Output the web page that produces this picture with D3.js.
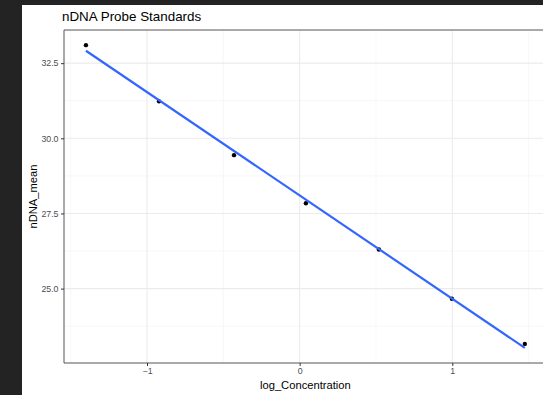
<!DOCTYPE html>
<html>
<head>
<meta charset="utf-8">
<script src="https://cdn.jsdelivr.net/npm/d3@7"></script>
<style>
  html, body { margin: 0; padding: 0; background: #232323; overflow: hidden; }
  svg { display: block; font-family: "Liberation Sans", Arial, Helvetica, sans-serif; }
  .tick text { fill: #4d4d4d; font-size: 8.8px; }
</style>
</head>
<body>
<svg id="chart" width="543" height="395"></svg>
<script>
"use strict";

// ── Data ──────────────────────────────────────────────────────────────────────
const logConc   = [-1.40, -0.921, -0.430, 0.041, 0.519, 0.997, 1.475];
const ndnaMean  = [33.10, 31.23, 29.44, 27.84, 26.30, 24.66, 23.16];
const xTicks    = [-1, 0, 1];
const yTicks    = [25.0, 27.5, 30.0, 32.5];
const xMinor    = [-1.5, -0.5, 0.5, 1.5];
const yMinor    = [23.75, 26.25, 28.75, 31.25];

// ── Layout ────────────────────────────────────────────────────────────────────
const W = 543, H = 395;
const M = { top: 30, left: 64, bottom: 363 };
const ppu = 152.65; // px per x unit (panel runs past right edge)

const svg = d3.select("#chart");

svg.append("rect")
  .attr("x", 22).attr("y", 5)
  .attr("width", W - 22).attr("height", H - 5)
  .attr("fill", "#ffffff");

// least squares fit (geom_smooth method = lm)
const mx = d3.mean(logConc), my = d3.mean(ndnaMean);
const slope = d3.sum(logConc, (x, i) => (x - mx) * (ndnaMean[i] - my)) /
              d3.sum(logConc, (x) => (x - mx) * (x - mx));
const icpt  = my - slope * mx;
const xExt  = d3.extent(logConc);
const fit   = xExt.map((x) => ({ x, y: icpt + slope * x }));

// scales with 5% expansion like ggplot
const xPad = (xExt[1] - xExt[0]) * 0.05;
const xDom = [xExt[0] - xPad, xExt[1] + xPad];
const yAll = ndnaMean.concat(fit.map((d) => d.y));
const yExt = d3.extent(yAll);
const yPad = (yExt[1] - yExt[0]) * 0.05;
const yDom = [yExt[0] - yPad, yExt[1] + yPad];

const x = d3.scaleLinear().domain(xDom)
  .range([M.left, M.left + (xDom[1] - xDom[0]) * ppu]);
const y = d3.scaleLinear().domain(yDom).range([M.bottom, M.top]);

const pR = x.range()[1];

// ── Grid ──────────────────────────────────────────────────────────────────────
const grid = svg.append("g");
grid.selectAll(".xminor").data(xMinor).join("line")
  .attr("x1", (d) => x(d)).attr("x2", (d) => x(d))
  .attr("y1", M.top).attr("y2", M.bottom)
  .attr("stroke", "#f2f2f2").attr("stroke-width", 0.6);
grid.selectAll(".yminor").data(yMinor).join("line")
  .attr("y1", (d) => y(d)).attr("y2", (d) => y(d))
  .attr("x1", M.left).attr("x2", pR)
  .attr("stroke", "#f2f2f2").attr("stroke-width", 0.6);
grid.selectAll(".xmajor").data(xTicks).join("line")
  .attr("x1", (d) => x(d)).attr("x2", (d) => x(d))
  .attr("y1", M.top).attr("y2", M.bottom)
  .attr("stroke", "#ebebeb").attr("stroke-width", 1.1);
grid.selectAll(".ymajor").data(yTicks).join("line")
  .attr("y1", (d) => y(d)).attr("y2", (d) => y(d))
  .attr("x1", M.left).attr("x2", pR)
  .attr("stroke", "#ebebeb").attr("stroke-width", 1.1);

// ── Marks ─────────────────────────────────────────────────────────────────────
svg.append("g").selectAll("circle")
  .data(logConc.map((v, i) => ({ x: v, y: ndnaMean[i] })))
  .join("circle")
  .attr("cx", (d) => x(d.x)).attr("cy", (d) => y(d.y))
  .attr("r", 2.2).attr("fill", "#000");

svg.append("path")
  .datum(fit)
  .attr("fill", "none")
  .attr("stroke", "#3366ff")
  .attr("stroke-width", 2.2)
  .attr("d", d3.line().x((d) => x(d.x)).y((d) => y(d.y)));

// panel border: right side falls outside the window, so only three sides
svg.append("path")
  .attr("d", `M${pR},${M.top}H${M.left}V${M.bottom}H${pR}`)
  .attr("fill", "none").attr("stroke", "#555").attr("stroke-width", 1);

// ── Axes ──────────────────────────────────────────────────────────────────────
const xAxis = svg.append("g")
  .attr("transform", `translate(0,${M.bottom})`)
  .call(d3.axisBottom(x).tickValues(xTicks).tickFormat(d3.format("d"))
    .tickSize(3).tickPadding(2));
const yAxis = svg.append("g")
  .attr("transform", `translate(${M.left},0)`)
  .call(d3.axisLeft(y).tickValues(yTicks).tickFormat(d3.format(".1f"))
    .tickSize(3).tickPadding(2.5));
[xAxis, yAxis].forEach((a) => {
  a.select(".domain").remove();
  a.selectAll(".tick line").attr("stroke", "#333");
});

// ── Titles ────────────────────────────────────────────────────────────────────
svg.append("text")
  .attr("x", 62).attr("y", 21)
  .attr("font-size", 13.4).attr("fill", "#000")
  .text("nDNA Probe Standards");

svg.append("text")
  .attr("x", (M.left + pR) / 2).attr("y", 389)
  .attr("text-anchor", "middle")
  .attr("font-size", 11.2).attr("fill", "#000")
  .text("log_Concentration");

svg.append("text")
  .attr("transform", `translate(37,${(M.top + M.bottom) / 2}) rotate(-90)`)
  .attr("text-anchor", "middle")
  .attr("font-size", 11.2).attr("fill", "#000")
  .text("nDNA_mean");
</script>
</body>
</html>
